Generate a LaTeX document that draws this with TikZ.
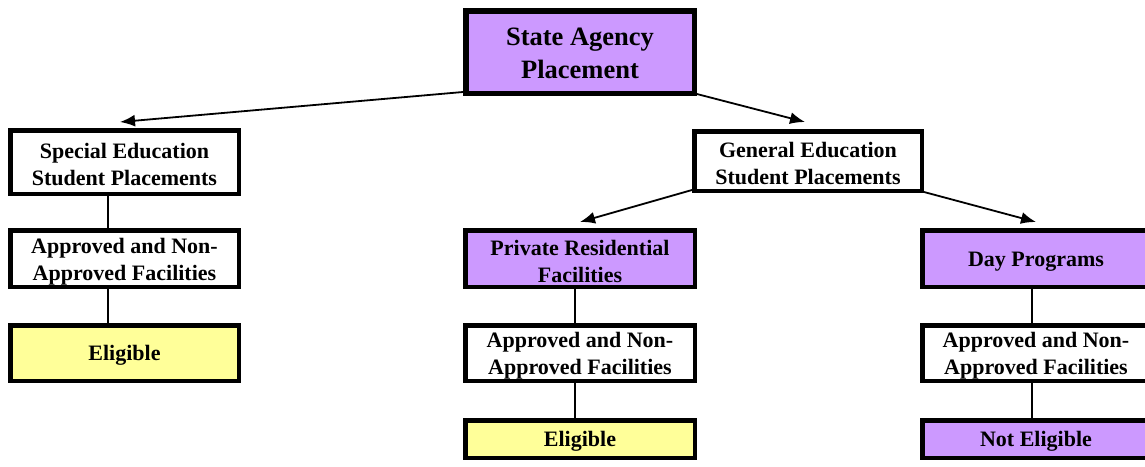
\documentclass[tikz,border=0pt]{standalone}
\usepackage{fontspec}
\setmainfont{Liberation Serif}
\usetikzlibrary{arrows.meta}
\definecolor{purp}{RGB}{204,153,255}
\definecolor{yell}{RGB}{255,255,153}
\newcommand{\topstrut}[1]{\rule{0pt}{#1}}
\begin{document}
\begin{tikzpicture}[x=1pt,y=-1pt,
  box/.style={draw=black, line width=4.5pt, align=center, inner sep=0pt,
    font=\bfseries\fontsize{22}{27}\selectfont},
  pur/.style={box, fill=purp},
  yel/.style={box, fill=yell},
  wht/.style={box, fill=white},
  arr/.style={line width=1.8pt, -{Latex[length=15pt,width=12pt]}},
  conn/.style={line width=1.1pt}]
\useasboundingbox (0,0) rectangle (1145,466);
\clip (0,0) rectangle (1145,466);
\fill[white] (0,0) rectangle (1145,466);
% nodes
\node[pur, line width=5.5pt, minimum width=228.5pt, minimum height=82.5pt,
  font=\bfseries\fontsize{26.5}{33}\selectfont] (sa) at (580,52) {\topstrut{21pt}State Agency\\Placement};
\node[wht, minimum width=228.5pt, minimum height=63.5pt] (se) at (124.5,162) {\topstrut{20pt}Special Education\\Student Placements};
\node[wht, minimum width=227.5pt, minimum height=59.5pt] (ge) at (808,161) {\topstrut{20pt}General Education\\Student Placements};
\node[wht, minimum width=228.5pt, minimum height=56.5pt] (al) at (124.5,258.5) {\topstrut{21pt}Approved and Non-\\Approved Facilities};
\node[yel, minimum width=228.5pt, minimum height=55.5pt] (el) at (124.5,353) {\topstrut{20pt}Eligible};
\node[pur, minimum width=229.5pt, minimum height=56.5pt] (pr) at (580,258.5) {\topstrut{21pt}Private Residential\\Facilities};
\node[wht, minimum width=229.5pt, minimum height=55.5pt] (am) at (580,353) {\topstrut{21pt}Approved and Non-\\Approved Facilities};
\node[yel, minimum width=229.5pt, minimum height=37.5pt] (em) at (580,439) {\topstrut{20pt}Eligible};
\node[pur, minimum width=227.5pt, minimum height=56.5pt] (dp) at (1036,258.5) {\topstrut{20pt}Day Programs};
\node[wht, minimum width=227.5pt, minimum height=55.5pt] (ar) at (1036,353) {\topstrut{21pt}Approved and Non-\\Approved Facilities};
\node[pur, minimum width=227.5pt, minimum height=37.5pt] (ne) at (1036,439) {\topstrut{20pt}Not Eligible};
% connector columns
\coordinate (lx) at (108,0);
\coordinate (mx) at (575,0);
\coordinate (rx) at (1032,0);
\draw[conn] (lx |- se.south) -- (lx |- al.north);
\draw[conn] (lx |- al.south) -- (lx |- el.north);
\draw[conn] (mx |- pr.south) -- (mx |- am.north);
\draw[conn] (mx |- am.south) -- (mx |- em.north);
\draw[conn] (rx |- dp.south) -- (rx |- ar.north);
\draw[conn] (rx |- ar.south) -- (rx |- ne.north);
% arrows
\draw[arr] ([yshift=4pt]sa.south west) -- ([xshift=-4.5pt,yshift=6pt]se.north);
\draw[arr] ([xshift=-4pt,yshift=3pt]sa.south east) -- ([xshift=-3pt,yshift=7pt]ge.north);
\draw[arr] ([yshift=3pt]ge.south west) -- ([yshift=6pt]pr.north);
\draw[arr] ([yshift=1pt]ge.south east) -- ([yshift=6pt]dp.north);
\end{tikzpicture}
\end{document}
